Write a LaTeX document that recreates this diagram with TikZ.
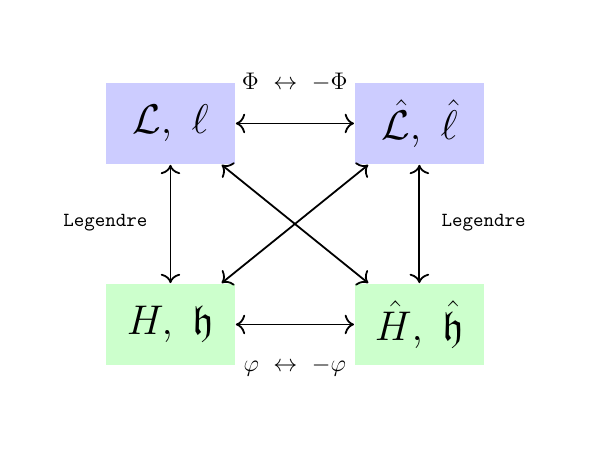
\documentclass[tikz,border=0pt]{standalone}
\usepackage{amsmath,amssymb}
\usetikzlibrary{arrows.meta,positioning}

\begin{document}
\begin{tikzpicture}[font=\large,box/.style={inner sep=0pt,minimum width=2.267cm,minimum height=1.423cm,font=\huge},line width=.9pt,>={To[scale=1.3]}]
\useasboundingbox (0,0) rectangle (10.37,7.89);
\node[box,fill=blue!20] (L) at (2.996,5.72) {$\mathcal{L},\ \ell$};
\node[box,fill=blue!20] (Lhat) at (7.371,5.72) {$\hat{\mathcal{L}},\ \hat{\ell}$};
\node[box,fill=green!20] (H) at (2.996,2.187) {$H,\ \mathfrak{h}$};
\node[box,fill=green!20] (Hhat) at (7.371,2.187) {$\hat{H},\ \hat{\mathfrak{h}}$};
\node (phi) at (5.18,6.45) {$\Phi\ \leftrightarrow\ -\Phi$};
\node (varphi) at (5.18,1.446) {$\varphi\ \leftrightarrow\ -\varphi$};
\node[font=\ttfamily] (legl) at (1.853,3.976) {Legendre};
\node[font=\ttfamily] (legr) at (8.499,3.971) {Legendre};
\draw[<->] (L) -- (Lhat);
\draw[<->] (H) -- (Hhat);
\draw[<->] (L) -- (H);
\draw[<->] (Lhat) -- (Hhat);
\draw[<->] (L) -- (Hhat);
\draw[<->] (Lhat) -- (H);
\end{tikzpicture}
\end{document}
